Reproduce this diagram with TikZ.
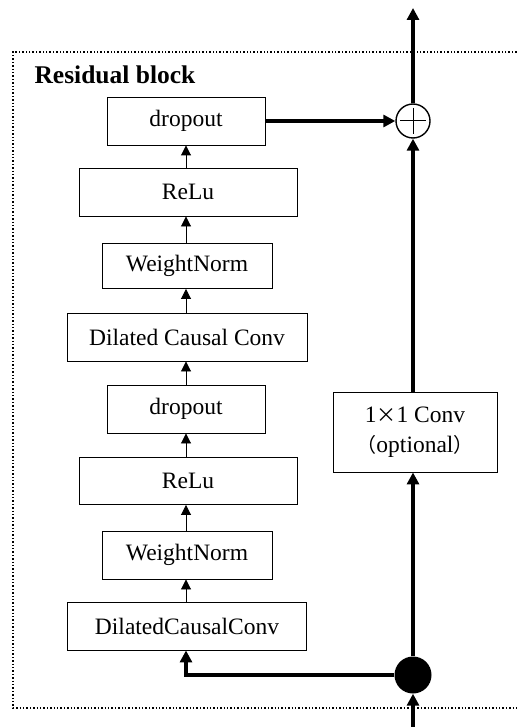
\documentclass[tikz,border=0pt]{standalone}
\usepackage{fontspec}
\setmainfont{Liberation Serif}
\newfontfamily\cjkfont{Noto Sans CJK SC}
\usetikzlibrary{arrows.meta,calc}
\begin{document}
\begin{tikzpicture}[x=1pt,y=-1pt,
  blk/.style={draw, line width=0.9pt, minimum height=48pt, inner sep=0pt, font=\fontsize{23.5}{27}\selectfont},
  thinarr/.style={-{Triangle[length=10pt,width=10pt]}, line width=0.9pt},
  thickarr/.style={-{Triangle[length=12pt,width=12pt]}, line width=3.2pt}]
\useasboundingbox (0,0) rectangle (518,727);
\draw[dotted, line width=1.4pt] (520,52) -- (13,52) -- (13,708) -- (520,708);
\node[font=\bfseries\fontsize{25.5}{30}\selectfont, anchor=west] (title) at (31,75) {Residual block};
\node[blk, minimum width=158pt] (d2) at (186,121) {dropout};
\node[blk, minimum width=218pt] (r2) at (188,192) {ReLu};
\node[blk, minimum width=170pt, minimum height=45pt] (w2) at (187,266) {WeightNorm};
\node[blk, minimum width=240pt] (c2) at (187,337) {Dilated Causal Conv};
\node[blk, minimum width=158pt] (d1) at (186,409) {dropout};
\node[blk, minimum width=218pt, minimum height=47pt] (r1) at (188,481) {ReLu};
\node[blk, minimum width=170pt] (w1) at (187,555) {WeightNorm};
\node[blk, minimum width=239pt] (c1) at (187,626) {DilatedCausalConv};
\node[blk, minimum width=164pt, minimum height=80pt, align=center, font=\fontsize{23.5}{30}\selectfont] (conv) at (415,432) {1{\cjkfont\fontsize{20}{24}\selectfont ×}1 Conv\\{\cjkfont\fontsize{20}{24}\selectfont （}optional{\cjkfont\fontsize{20}{24}\selectfont ）}};
\node[draw, circle, line width=1.4pt, minimum size=34pt, inner sep=0pt] (plus) at (413,121) {};
\draw[line width=1pt] ($(plus.center)+(0,-13)$) -- ($(plus.center)+(0,13)$);
\draw[line width=1pt] ($(plus.center)+(-13,0)$) -- ($(plus.center)+(13,0)$);
\node[circle, fill=black, minimum size=37pt, inner sep=0pt] (dot) at (413,675) {};
\coordinate (bot) at (413,727);
\coordinate (top) at (413,8);
\coordinate (corner) at (186,675);
\foreach \a/\b in {c1/w1, w1/r1, r1/d1, d1/c2, c2/w2, w2/r2, r2/d2}
  \draw[thinarr] (\a.north -| corner) -- (\b.south -| corner);
\draw[thickarr] (bot) -- (dot.south);
\draw[thickarr] (dot.west) -- (corner) -- (c1.south -| corner);
\draw[thickarr] (dot.north) -- (conv.south -| dot);
\draw[thickarr] (conv.north -| plus) -- (plus.south);
\draw[thickarr] (d2.east) -- (plus.west);
\draw[thickarr] (plus.north) -- (top);
\end{tikzpicture}
\end{document}
